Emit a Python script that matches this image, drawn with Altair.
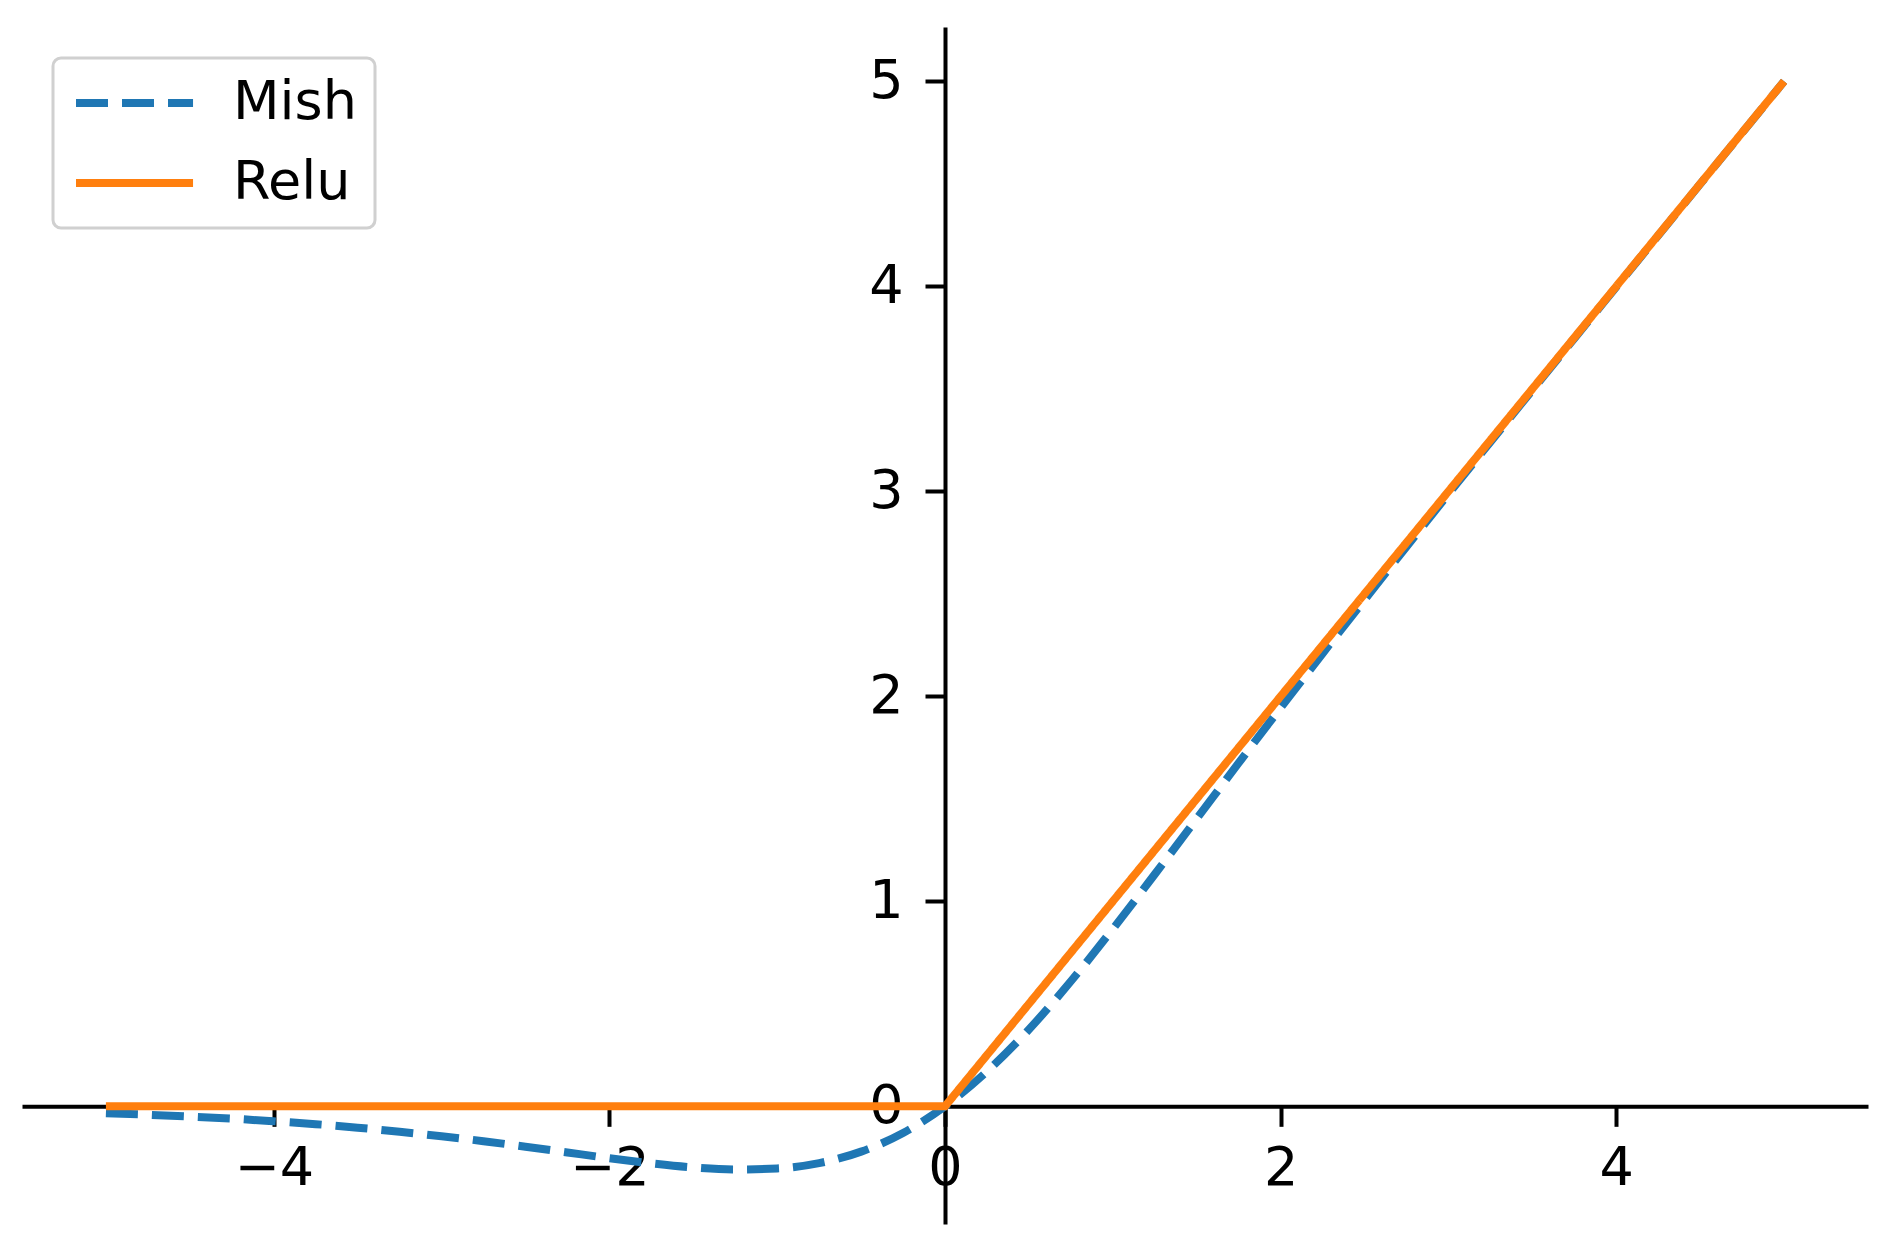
import altair as alt
import pandas as pd

# ---- data ----
mish_x = [-5.0, -4.75, -4.5, -4.25, -4.0, -3.75, -3.5, -3.25, -3.0, -2.75, -2.5, -2.25,
          -2.0, -1.75, -1.5, -1.25, -1.0, -0.75, -0.5, -0.25, 0.0, 0.25, 0.5, 0.75,
          1.0, 1.25, 1.5, 1.75, 2.0, 2.25, 2.5, 2.75, 3.0, 3.25, 3.5, 3.75, 4.0,
          4.25, 4.5, 4.75, 5.0]
mish_y = [-0.034, -0.041, -0.050, -0.060, -0.073, -0.087, -0.104, -0.124, -0.146, -0.170,
          -0.197, -0.225, -0.253, -0.278, -0.298, -0.308, -0.303, -0.277, -0.221, -0.130,
          0.0, 0.170, 0.375, 0.610, 0.865, 1.132, 1.403, 1.675, 1.944, 2.209, 2.471,
          2.730, 2.987, 3.241, 3.494, 3.746, 3.997, 4.248, 4.499, 4.749, 5.000]
relu_x = [-5.0, 0.0, 5.0]
relu_y = [0.0, 0.0, 5.0]

series_names = ["Mish", "Relu"]
series_colors = ["#1f77b4", "#ff7f0e"]
series_dash = [[32, 14], [1, 0]]
x_ticks = [-4, -2, 0, 2, 4]
y_ticks = [0, 1, 2, 3, 4, 5]

df = pd.concat([
    pd.DataFrame({"x": mish_x, "y": mish_y, "series": "Mish"}),
    pd.DataFrame({"x": relu_x, "y": relu_y, "series": "Relu"}),
], ignore_index=True)

W, H = 1846, 1197
XD = [-5.5, 5.5]
YD = [-0.574, 5.265]
x_axis_offset = -(H * (0 - YD[0]) / (YD[1] - YD[0]))
y_axis_offset = -(W * (0 - XD[0]) / (XD[1] - XD[0]))

legend = alt.Legend(
    title=None, orient="none", legendX=31, legendY=31,
    symbolType="M-1,0H4.32", symbolSize=1936, symbolStrokeWidth=8,
    labelFont="DejaVu Sans", labelFontSize=54, labelColor="black",
    labelOffset=108, padding=18, fillColor="white", strokeColor="#d0d0d0",
    cornerRadius=8, rowPadding=26,
)

base = alt.Chart(df).encode(
    x=alt.X("x:Q", title=None,
            scale=alt.Scale(domain=XD, nice=False, zero=False),
            axis=alt.Axis(values=x_ticks, offset=x_axis_offset, labelPadding=15)),
    y=alt.Y("y:Q", title=None,
            scale=alt.Scale(domain=YD, nice=False, zero=False),
            axis=alt.Axis(values=y_ticks, offset=y_axis_offset, labelPadding=22)),
    color=alt.Color("series:N", scale=alt.Scale(domain=series_names, range=series_colors), legend=legend),
    strokeDash=alt.StrokeDash("series:N", scale=alt.Scale(domain=series_names, range=series_dash), legend=legend),
)

mish = base.transform_filter(alt.datum.series == "Mish").mark_line(interpolate="monotone", strokeWidth=8)
relu = base.transform_filter(alt.datum.series == "Relu").mark_line(strokeWidth=8)

chart = alt.layer(mish, relu).properties(
    width=W, height=H,
    padding={"left": 14, "top": 19, "right": 20, "bottom": 19},
    autosize=alt.AutoSizeParams(type="none"),
).configure_view(stroke=None).configure_axis(
    grid=False, domainColor="black", domainWidth=4, tickColor="black", tickWidth=4,
    tickSize=20, labelFont="DejaVu Sans", labelFontSize=54, labelColor="black",
    labelOverlap=False, labelFlush=False, zindex=1,
).configure_legend(strokeWidth=3)

chart.save("out.html", embed_options={"renderer": "svg", "actions": False})
